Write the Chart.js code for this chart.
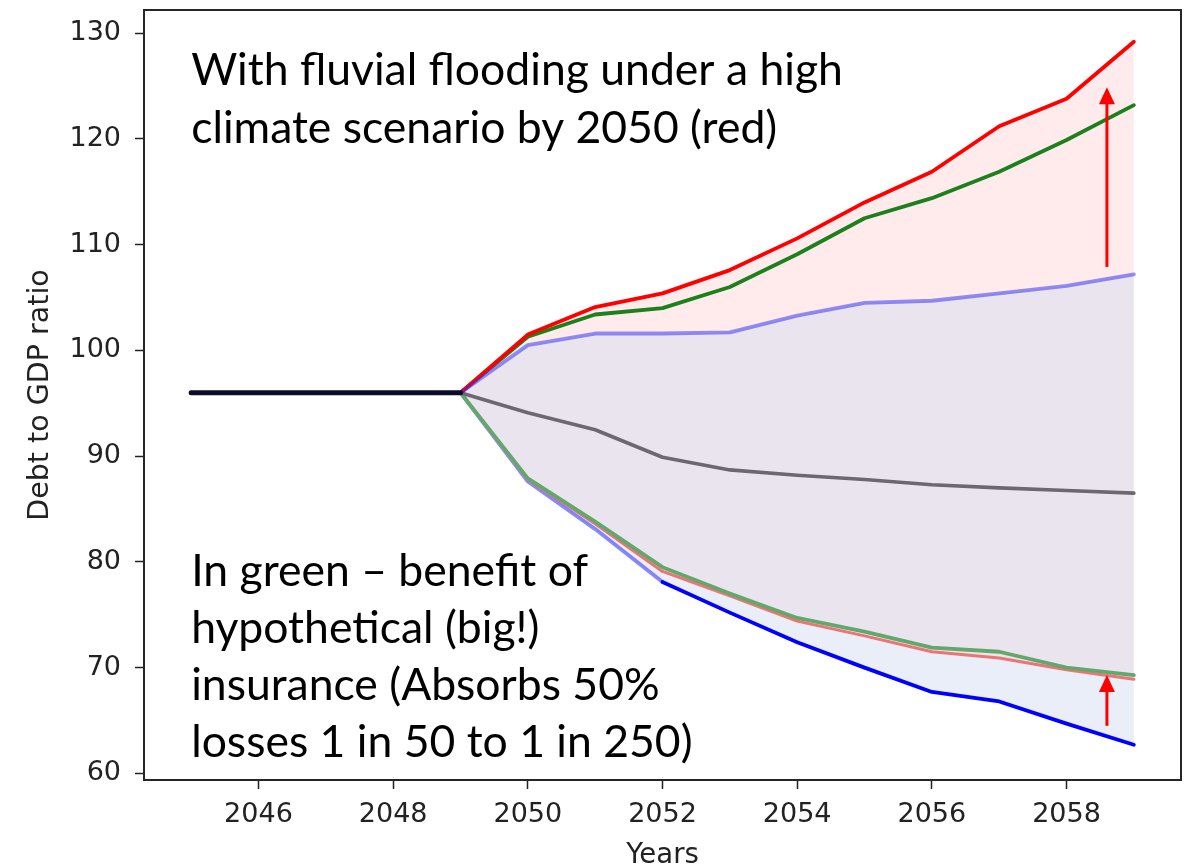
<!DOCTYPE html>
<html>
<head>
<meta charset="utf-8">
<script src="https://cdn.jsdelivr.net/npm/chart.js@4.4.1/dist/chart.umd.min.js"></script>
<style>
  html, body { margin: 0; padding: 0; background: #ffffff; }
  #wrap { width: 1184px; height: 864px; }
</style>
</head>
<body>
<div id="wrap"><canvas id="debt" width="1184" height="864"></canvas></div>
<script>
// Shared history before the projection starts
const historyYears = [2045, 2046, 2047, 2048, 2049];
const historyRatio = [96, 96, 96, 96, 96];

// Projection years
const projYears = [2049, 2050, 2051, 2052, 2053, 2054, 2055, 2056, 2057, 2058, 2059];

// Baseline fan (blue band) and its median
const baselineUpper = [96, 100.5, 101.6, 101.6, 101.7, 103.3, 104.5, 104.7, 105.4, 106.1, 107.2];
const baselineLower = [96, 87.6, 83.1, 78.1, 75.2, 72.4, 70.0, 67.7, 66.8, 64.7, 62.7];
const medianPath    = [96, 94.1, 92.5, 89.9, 88.7, 88.2, 87.8, 87.3, 87.0, 86.75, 86.5];

// Fluvial flooding, high climate scenario (red band)
const floodUpper = [96, 101.5, 104.1, 105.4, 107.6, 110.6, 114.0, 116.9, 121.2, 123.8, 129.2];
const floodLower = [96, 87.8, 83.6, 79.1, 76.8, 74.4, 73.0, 71.5, 70.9, 69.8, 68.9];

// Flooding with insurance absorbing 50% of losses (green)
const insuredUpper = [96, 101.3, 103.4, 104.0, 106.0, 109.1, 112.5, 114.4, 116.9, 119.9, 123.2];
const insuredLower = [96, 87.9, 83.8, 79.5, 77.0, 74.7, 73.4, 71.9, 71.5, 70.0, 69.3];

// Axis ticks
const xTicks = [2046, 2048, 2050, 2052, 2054, 2056, 2058];
const yTicks = [60, 70, 80, 90, 100, 110, 120, 130];

// Arrows showing the insurance benefit: [year, from, to]
const arrows = [
  [2058.6, 107.9, 124.9],
  [2058.6, 64.5, 69.3]
];

// Text notes: anchor [year, ratio] of first baseline, then lines
const noteTop = { at: [2045.0, 125.1], step: 58, lines: [
  'With fluvial flooding under a high',
  'climate scenario by 2050 (red)'
]};
const noteBottom = { at: [2045.0, 77.7], step: 57, lines: [
  'In green \u2013 benefit of',
  'hypothetical (big!)',
  'insurance (Absorbs 50%',
  'losses 1 in 50 to 1 in 250)'
]};

const pts = (xs, ys) => xs.map((x, i) => ({ x: x, y: ys[i] }));

const line = (label, data, color, width, extra) => Object.assign({
  label: label,
  data: data,
  borderColor: color,
  borderWidth: width,
  pointRadius: 0,
  tension: 0,
  fill: false,
  borderCapStyle: 'round',
  borderJoinStyle: 'round'
}, extra || {});

const datasets = [
  line('History', pts(historyYears, historyRatio), '#0b0b28', 5),
  line('Baseline upper', pts(projYears, baselineUpper), 'rgba(40,40,245,0.5)', 3.8,
       { fill: { target: 8 }, backgroundColor: 'rgba(213,221,241,0.5)' }),
  line('Flood upper', pts(projYears, floodUpper), '#ff0000', 3.8,
       { fill: { target: 6 }, backgroundColor: 'rgba(255,0,0,0.08)' }),
  line('Insured upper', pts(projYears, insuredUpper), '#1c801c', 3.8),
  line('Median', pts(projYears, medianPath), '#6c6870', 3.6),
  line('Insured lower', pts(projYears, insuredLower), '#62a86a', 3.8),
  line('Flood lower', pts(projYears, floodLower), '#ec7474', 3),
  line('Baseline lower', pts(projYears, baselineLower), '#0000ff', 3.8, {
    segment: {
      borderColor: c => c.p0.parsed.x < 2052 ? 'rgba(40,40,245,0.55)' : '#0000ff'
    }
  }),
  // plain edge of the blue band, used only as the fill boundary
  line('Baseline lower edge', pts(projYears, baselineLower), 'rgba(0,0,0,0)', 0)
];

const TEXT = '#222222';
const tickFont = { family: 'DejaVu Sans', size: 27 };

const decorations = {
  id: 'decorations',
  afterDatasetsDraw(chart) {
    const { ctx, chartArea: a, scales: { x, y } } = chart;
    ctx.save();

    // arrows
    ctx.strokeStyle = '#ff0000';
    ctx.fillStyle = '#ff0000';
    ctx.lineWidth = 3;
    arrows.forEach(([yr, from, to]) => {
      const px = x.getPixelForValue(yr);
      const y0 = y.getPixelForValue(from);
      const y1 = y.getPixelForValue(to);
      const head = 17, half = 8;
      ctx.beginPath();
      ctx.moveTo(px, y0);
      ctx.lineTo(px, y1 + head - 1);
      ctx.stroke();
      ctx.beginPath();
      ctx.moveTo(px, y1);
      ctx.lineTo(px - half, y1 + head);
      ctx.lineTo(px + half, y1 + head);
      ctx.closePath();
      ctx.fill();
    });

    // notes
    ctx.fillStyle = '#000000';
    ctx.font = '44.5px Lato';
    ctx.textAlign = 'left';
    ctx.textBaseline = 'alphabetic';
    [noteTop, noteBottom].forEach(n => {
      const px = x.getPixelForValue(n.at[0]);
      const py = y.getPixelForValue(n.at[1]);
      n.lines.forEach((t, i) => ctx.fillText(t, px, py + i * n.step));
    });

    // frame
    ctx.strokeStyle = '#262626';
    ctx.lineWidth = 2;
    ctx.strokeRect(a.left, a.top, a.right - a.left, a.bottom - a.top);

    // axis titles
    ctx.fillStyle = TEXT;
    ctx.textAlign = 'center';
    ctx.textBaseline = 'alphabetic';
    ctx.font = '27.5px "DejaVu Sans"';
    ctx.fillText('Years', (a.left + a.right) / 2, 863);
    ctx.font = '28.5px "DejaVu Sans"';
    ctx.translate(48, (a.top + a.bottom) / 2);
    ctx.rotate(-Math.PI / 2);
    ctx.fillText('Debt to GDP ratio', 0, 0);
    ctx.restore();
  }
};

new Chart(document.getElementById('debt'), {
  type: 'line',
  data: { datasets: datasets },
  options: {
    responsive: false,
    animation: false,
    events: [],
    layout: { padding: { top: 10, right: 3, left: 0, bottom: 0 } },
    plugins: {
      legend: { display: false },
      tooltip: { enabled: false },
      filler: { drawTime: 'beforeDatasetsDraw', propagate: false }
    },
    scales: {
      x: {
        type: 'linear',
        min: 2044.3,
        max: 2059.7,
        afterBuildTicks: s => { s.ticks = xTicks.map(v => ({ value: v })); },
        afterFit: s => { s.height = 84; s.paddingLeft = 0; s.paddingRight = 0; },
        grid: { drawOnChartArea: false, drawTicks: true, tickLength: 9, tickColor: TEXT, tickWidth: 1.5 },
        border: { display: false },
        ticks: { color: TEXT, font: tickFont, padding: 10, maxRotation: 0, autoSkip: false,
                 callback: v => String(v) }
      },
      y: {
        type: 'linear',
        min: 59.37,
        max: 132.2,
        afterBuildTicks: s => { s.ticks = yTicks.map(v => ({ value: v })); },
        afterFit: s => { s.width = 144; s.paddingTop = 0; s.paddingBottom = 0; },
        grid: { drawOnChartArea: false, drawTicks: true, tickLength: 9, tickColor: TEXT, tickWidth: 1.5 },
        border: { display: false },
        ticks: { color: TEXT, font: tickFont, padding: 14, autoSkip: false,
                 callback: v => String(v) }
      }
    }
  },
  plugins: [decorations]
});
</script>
</body>
</html>
